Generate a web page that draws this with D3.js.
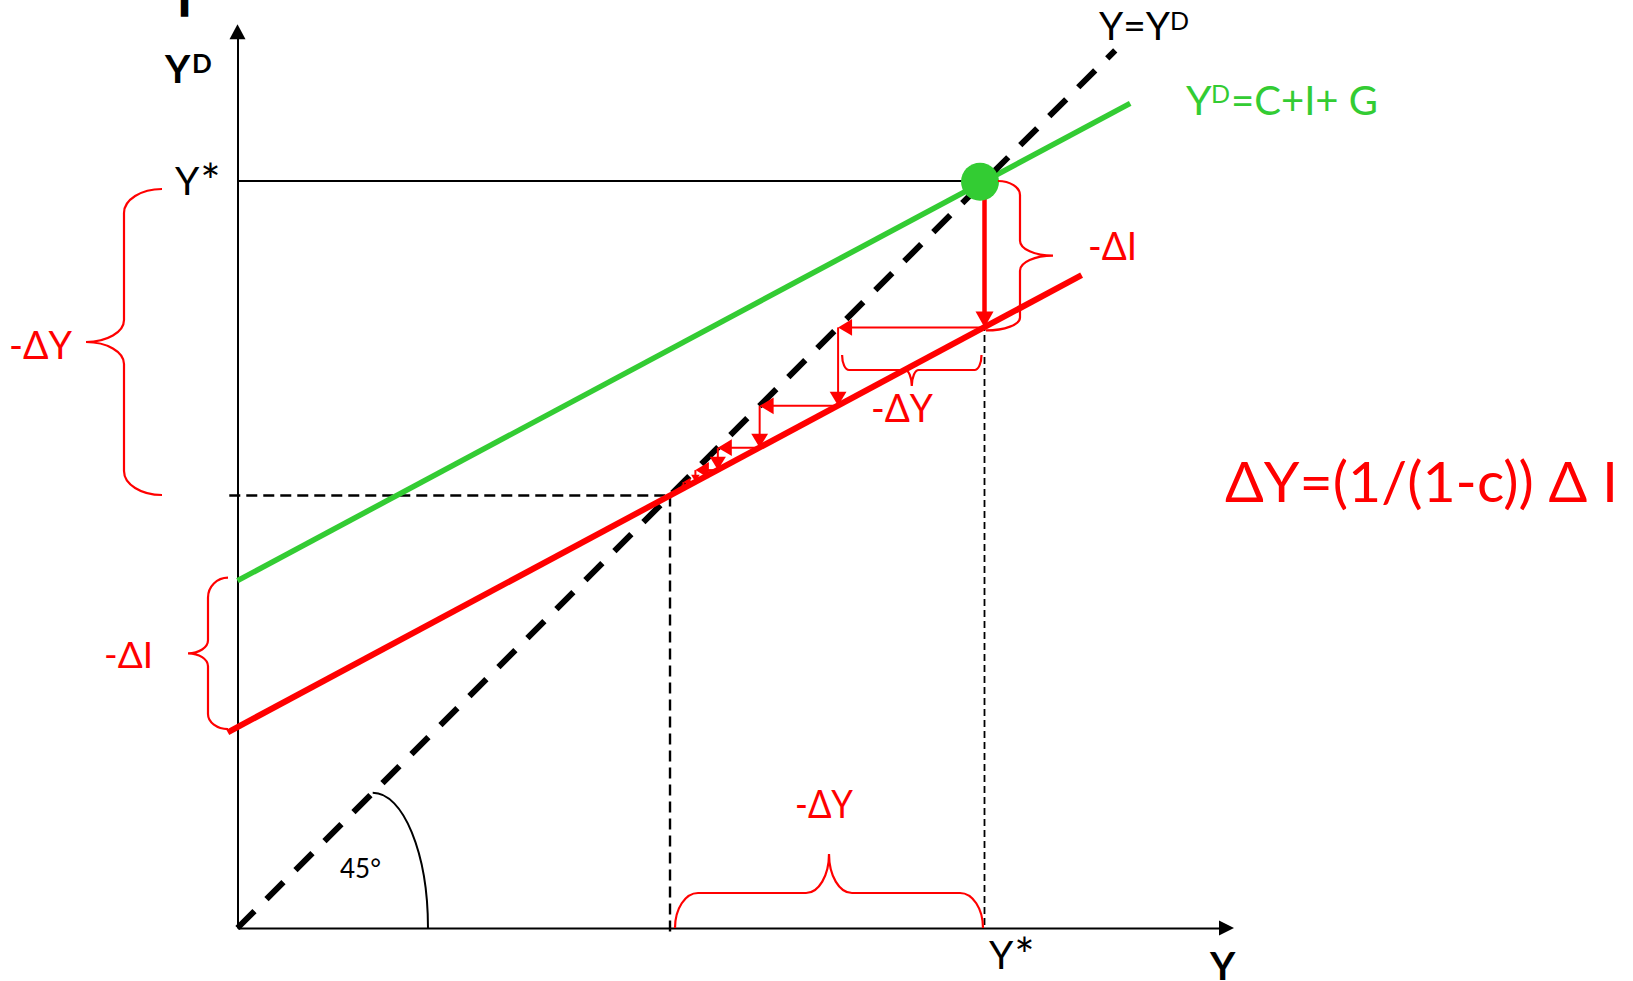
<!DOCTYPE html>
<html><head><meta charset="utf-8">
<script src="https://cdnjs.cloudflare.com/ajax/libs/d3/7.8.5/d3.min.js"></script>
<style>html,body{margin:0;padding:0;background:#fff;overflow:hidden} svg{display:block}</style>
</head><body>
<svg id="chart" width="1633" height="981"></svg>
<script>
// ---------------- data (model units, Y* = 100) ----------------
const yStar = 100;                              // initial equilibrium income
const yNew = 57.9;                              // new equilibrium income after -ΔI
const demandOld = [[0, 46.5], [119.5, 110.4]];  // Y^D = C + I + G (green)
const demandNew = [[-1.3, 26.2], [113, 87.4]];  // Y^D after drop in I (red)
const diagonal = [[0, 0], [117.5, 117.5]];      // 45° line Y = Y^D
const equilibriumDot = [99.4, 99.9];
const stepIncomes = [100, 80.4, 69.9, 64.3, 61.3, 59.7, 58.8]; // multiplier rounds
const axisMax = {x: 133.4, y: 121};
const angleArc = {top: 18.1, right: 25.5};
const labelsRed = ["-ΔY", "-ΔI", "-ΔY", "-ΔI", "-ΔY"];
const formula = "ΔY=(1/(1-c)) Δ I";

// ---------------- setup ----------------
const svg = d3.select("#chart");
const x = d3.scaleLinear().domain([0, 100]).range([237.5, 984.5]);
const y = d3.scaleLinear().domain([0, 100]).range([928, 181]);
const RED = "#FF0000", GREEN = "#33CC33";
const FONT = "Lato, Carlito, 'Open Sans', 'Noto Sans', sans-serif";
const line = d3.line().x(d => x(d[0])).y(d => y(d[1]));

function arrowHead(tx, ty, dx, dy, len, half, color) {
  const n = Math.hypot(dx, dy); dx /= n; dy /= n;
  const bx = tx - dx * len, by = ty - dy * len;
  const px = -dy, py = dx;
  svg.append("path")
    .attr("d", `M${tx},${ty}L${bx + px * half},${by + py * half}L${bx - px * half},${by - py * half}Z`)
    .attr("fill", color);
}
function arrow(x1, y1, x2, y2, w, len, half, color) {
  const dx = x2 - x1, dy = y2 - y1, n = Math.hypot(dx, dy);
  const ex = x2 - dx / n * len * 0.6, ey = y2 - dy / n * len * 0.6;
  svg.append("line").attr("x1", x1).attr("y1", y1).attr("x2", ex).attr("y2", ey)
    .attr("stroke", color).attr("stroke-width", w);
  arrowHead(x2, y2, dx, dy, len, half, color);
}

// ---------------- axes ----------------
const xAxisScale = x.copy().domain([0, axisMax.x]).range([x(0), x(axisMax.x) - 14]);
const yAxisScale = y.copy().domain([0, axisMax.y]).range([y(0), y(axisMax.y) + 14]);
svg.append("g").attr("transform", `translate(0,${y(0)})`)
  .call(d3.axisBottom(xAxisScale).tickValues([]).tickSizeOuter(0));
svg.append("g").attr("transform", `translate(${x(0)},0)`)
  .call(d3.axisLeft(yAxisScale).tickValues([]).tickSizeOuter(0));
svg.selectAll(".domain").attr("stroke", "#000").attr("stroke-width", 2);
arrowHead(x(axisMax.x), y(0), 1, 0, 15, 7.5, "#000");
arrowHead(x(0), y(axisMax.y), 0, -1, 15, 8, "#000");

// ---------------- guide lines ----------------
svg.append("path").attr("d", line([[0, yStar], [yStar, yStar]]))
  .attr("stroke", "#000").attr("stroke-width", 1.8).attr("fill", "none");
svg.append("path").attr("d", line([[yStar, yStar], [yStar, 0]]))
  .attr("stroke", "#000").attr("stroke-width", 1.8).attr("stroke-dasharray", "7,4").attr("fill", "none");
svg.append("path").attr("d", line([[-1.1, yNew], [yNew, yNew]]))
  .attr("stroke", "#000").attr("stroke-width", 2.4).attr("stroke-dasharray", "11,6").attr("fill", "none");
svg.append("path").attr("d", line([[yNew, yNew], [yNew, -1]]))
  .attr("stroke", "#000").attr("stroke-width", 2.4).attr("stroke-dasharray", "11,6").attr("fill", "none");

// 45° angle arc (quarter ellipse)
{
  const cx = x(angleArc.top), cy = y(0);
  const rx = x(angleArc.right) - cx, ry = y(0) - y(angleArc.top);
  const K = 0.5523;
  const p = d3.path();
  p.moveTo(cx, cy - ry);
  p.bezierCurveTo(cx + K * rx, cy - ry, cx + rx, cy - K * ry, cx + rx, cy);
  svg.append("path").attr("d", p.toString()).attr("stroke", "#000").attr("stroke-width", 2).attr("fill", "none");
}

// ---------------- main lines ----------------
svg.append("path").attr("d", line(demandOld)).attr("stroke", GREEN).attr("stroke-width", 5.5).attr("fill", "none");
svg.append("path").attr("d", line(diagonal)).attr("stroke", "#000").attr("stroke-width", 6)
  .attr("stroke-dasharray", "24,17").attr("fill", "none");
svg.append("path").attr("d", line(demandNew)).attr("stroke", RED).attr("stroke-width", 6).attr("fill", "none");

// ---------------- multiplier staircase ----------------
for (let i = 0; i < stepIncomes.length - 1; i++) {
  const xi = stepIncomes[i], xn = stepIncomes[i + 1];
  if (i === 0) {
    arrow(x(xi), y(xi) + 18, x(xi), y(xn), 4.5, 16, 9, RED);
  } else {
    const L = y(xn) - y(xi);
    const len = Math.min(14, L * 0.6);
    arrow(x(xi), y(xi), x(xi), y(xn), 2, len, len * 0.6, RED);
  }
  const H = x(xi) - x(xn);
  const lenH = Math.min(14, H * 0.6);
  arrow(x(xi), y(xn), x(xn), y(xn), 2, lenH, lenH * 0.6, RED);
}

// equilibrium dot
svg.append("circle").attr("cx", x(equilibriumDot[0])).attr("cy", y(equilibriumDot[1])).attr("r", 19).attr("fill", GREEN);

// ---------------- braces ----------------
function brace(o) {
  const K = 0.5523;
  const um = (o.u1 + o.u2) / 2;
  const P = [[o.u1, o.v1], [o.u1 + o.r1a, o.s], [um - o.r2, o.s], [um, o.t],
             [um + o.r2, o.s], [o.u2 - o.r1b, o.s], [o.u2, o.v2]];
  function q(A, B, alongV) {
    return alongV
      ? [[A[0], A[1] + K * (B[1] - A[1])], [B[0] - K * (B[0] - A[0]), B[1]], B]
      : [[A[0] + K * (B[0] - A[0]), A[1]], [B[0], B[1] - K * (B[1] - A[1])], B];
  }
  const m = o.orient === "v" ? (pt => [pt[1], pt[0]]) : (pt => pt);
  const p = d3.path();
  const s0 = m(P[0]); p.moveTo(s0[0], s0[1]);
  const cub = seg => { const a = m(seg[0]), b = m(seg[1]), c = m(seg[2]); p.bezierCurveTo(a[0], a[1], b[0], b[1], c[0], c[1]); };
  const lin = pt => { const a = m(pt); p.lineTo(a[0], a[1]); };
  cub(q(P[0], P[1], true)); lin(P[2]); cub(q(P[2], P[3], false));
  cub(q(P[3], P[4], true)); lin(P[5]); cub(q(P[5], P[6], false));
  svg.append("path").attr("d", p.toString()).attr("stroke", RED).attr("stroke-width", 2.2).attr("fill", "none");
}
brace({orient: "v", u1: y(yStar) + 8, u2: y(yNew) - 0.5, v1: 162, v2: 162, s: 124, t: 86, r1a: 24, r1b: 24, r2: 22});
brace({orient: "v", u1: y(demandOld[0][1]) - 3, u2: y(26.9) + 2, v1: 228, v2: 228, s: 208, t: 188, r1a: 20, r1b: 15, r2: 13});
brace({orient: "v", u1: y(yStar), u2: y(stepIncomes[1]) + 3, v1: 998, v2: 986, s: 1020, t: 1053, r1a: 14, r1b: 13, r2: 15});
brace({orient: "h", u1: x(stepIncomes[1]) + 4, u2: x(yStar) - 3, v1: 355, v2: 355, s: 370, t: 386, r1a: 7, r1b: 7, r2: 7});
brace({orient: "h", u1: x(yNew) + 5, u2: x(yStar) - 1.5, v1: 928, v2: 928, s: 893, t: 854, r1a: 23, r1b: 23, r2: 23});

// ---------------- text ----------------
function text(t, px, py, size, opts = {}) {
  const el = svg.append("text").attr("x", px).attr("y", py).text(t)
    .attr("font-family", FONT).attr("font-size", size)
    .attr("font-weight", opts.bold ? 700 : 400)
    .attr("fill", opts.fill || "#000")
    .attr("text-anchor", opts.anchor || "start");
  if (opts.width) el.attr("textLength", opts.width).attr("lengthAdjust", "spacingAndGlyphs");
  if (opts.stroke) el.attr("stroke", opts.fill || "#000").attr("stroke-width", opts.stroke);
  return el;
}
function yStarLabel(px, py) {
  const el = text("Y", px, py, 39);
  el.append("tspan").attr("font-size", 48).attr("dx", 1).attr("dy", 4).text("*");
}
text("I", 184.5, 16, 44, {bold: true, anchor: "middle", stroke: 1.5});
text("Y", 165, 83, 39, {bold: true});
text("D", 192, 73, 26, {bold: true});
yStarLabel(175, 195);
text("Y=Y", 1099, 40, 39, {width: 71});
text("D", 1170, 30, 25);
text("Y", 1186, 115, 41, {fill: GREEN});
text("D", 1211, 103, 25, {fill: GREEN});
text("=C+I+ G", 1231, 115, 41, {fill: GREEN, width: 147});
text(labelsRed[0], 9, 359, 38, {fill: RED, width: 63});
text(labelsRed[1], 1088, 260, 39, {fill: RED, width: 49});
text(labelsRed[2], 871, 422, 39, {fill: RED, width: 62});
text(labelsRed[3], 104, 668, 37, {fill: RED, width: 49});
text(labelsRed[4], 795, 818, 38, {fill: RED, width: 58});
text(formula, 1225, 502, 56, {fill: RED, width: 393});
text("45°", 340, 878, 26);
yStarLabel(989, 969);
text("Y", 1210, 980, 39, {bold: true});
</script>
</body></html>
